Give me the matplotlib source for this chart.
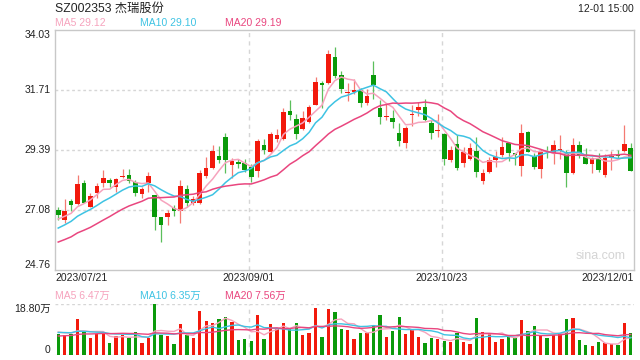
import numpy as np
import pandas as pd
import matplotlib
matplotlib.use("Agg")
import matplotlib.pyplot as plt

plt.rcParams['font.family'] = ['Liberation Sans', 'Noto Sans CJK SC', 'DejaVu Sans']

# daily quotes 2023/07/21 .. 2023/12/01 (90 sessions)
open_ = [27.08, 26.70, 27.43, 27.30, 28.13, 27.20, 27.75, 28.13, 28.24, 27.98,
         28.37, 28.44, 28.17, 27.68, 28.13, 27.66, 26.82, 26.79, 27.14, 27.04,
         27.89, 27.34, 27.36, 28.40, 28.71, 29.16, 29.88, 28.82, 28.94, 28.88,
         28.72, 28.60, 29.59, 29.33, 29.82, 29.82, 30.91, 30.59, 30.19, 30.49,
         31.13, 31.99, 31.99, 33.00, 32.29, 31.58, 31.65, 31.71, 31.22, 32.29,
         31.03, 30.66, 30.65, 30.04, 29.68, 30.76, 30.94, 31.07, 30.45, 30.14,
         30.01, 29.00, 29.62, 28.88, 29.03, 29.36, 28.20, 28.55, 29.00, 29.20,
         29.65, 29.26, 28.77, 30.10, 29.16, 28.68, 29.35, 29.29, 29.36, 29.33,
         28.49, 29.58, 29.13, 28.84, 29.07, 28.42, 29.10, 29.22, 29.36, 29.49]
high = [27.19, 27.49, 27.49, 28.43, 28.24, 27.72, 28.11, 28.62, 28.32, 28.33,
        28.65, 28.65, 28.24, 27.98, 28.56, 27.66, 26.82, 27.06, 27.27, 28.24,
        28.04, 27.62, 28.62, 29.11, 29.59, 29.55, 30.06, 29.07, 29.05, 29.05,
        28.85, 29.81, 29.81, 30.10, 30.19, 31.03, 31.32, 30.78, 30.90, 31.13,
        32.20, 32.05, 33.25, 33.38, 32.44, 31.97, 32.12, 31.78, 31.77, 32.83,
        31.32, 31.16, 30.94, 30.42, 30.32, 31.13, 31.26, 31.35, 30.55, 30.78,
        30.05, 29.55, 29.97, 29.52, 29.68, 29.88, 28.65, 29.13, 29.36, 29.90,
        29.70, 29.29, 30.39, 30.12, 29.29, 29.45, 29.56, 29.80, 29.97, 29.40,
        29.84, 29.75, 29.49, 29.13, 29.29, 29.23, 29.35, 29.39, 30.36, 29.65]
low = [26.69, 26.57, 27.02, 27.28, 27.34, 27.18, 27.53, 27.98, 27.98, 27.79,
       28.30, 28.11, 27.62, 27.53, 27.79, 26.31, 25.85, 26.50, 26.85, 26.57,
       27.21, 27.27, 27.30, 28.30, 28.68, 28.90, 28.52, 28.30, 28.70, 28.56,
       28.17, 28.34, 29.25, 29.28, 29.72, 29.78, 30.55, 29.82, 30.17, 30.45,
       31.13, 31.00, 31.95, 32.16, 31.61, 31.29, 31.55, 31.07, 31.15, 31.35,
       30.38, 30.55, 30.23, 29.55, 29.46, 30.32, 30.71, 30.52, 29.81, 29.91,
       28.82, 28.95, 28.62, 28.75, 29.00, 28.36, 28.08, 28.50, 28.75, 29.13,
       28.98, 28.81, 28.39, 29.30, 28.68, 28.30, 29.10, 28.85, 29.05, 27.97,
       28.47, 29.10, 28.85, 28.51, 28.55, 28.36, 28.64, 29.05, 29.30, 28.58]
close = [26.89, 27.02, 27.27, 28.08, 27.36, 27.62, 28.00, 28.32, 28.11, 28.27,
         28.40, 28.21, 27.72, 27.89, 28.39, 26.79, 26.50, 26.98, 27.02, 28.02,
         27.34, 27.49, 28.49, 28.69, 29.35, 29.00, 29.00, 28.98, 28.84, 28.62,
         28.34, 29.74, 29.39, 30.01, 29.97, 30.87, 30.75, 30.00, 30.62, 31.07,
         32.03, 31.91, 33.10, 32.26, 31.77, 31.62, 31.71, 31.22, 31.48, 31.90,
         30.68, 30.68, 30.49, 29.74, 30.26, 30.78, 31.04, 30.55, 30.04, 30.16,
         29.03, 29.39, 28.71, 29.33, 29.46, 28.56, 28.52, 29.00, 29.13, 29.52,
         29.29, 29.20, 30.06, 29.33, 28.75, 29.33, 29.30, 29.59, 29.45, 28.49,
         29.58, 29.20, 28.87, 29.09, 28.62, 29.07, 29.17, 29.15, 29.62, 28.59]
# volume in 万
volume = [7.74, 7.37, 7.74, 13.27, 8.48, 6.27, 7.62, 7.62, 4.42, 6.88,
          7.37, 6.27, 8.36, 4.42, 6.27, 18.80, 7.37, 7.00, 4.06, 11.43,
          7.37, 6.27, 16.20, 12.50, 11.80, 13.27, 14.00, 12.20, 5.50, 5.90,
          5.20, 14.75, 5.90, 11.43, 9.60, 11.80, 9.60, 11.80, 7.37, 8.10,
          17.30, 6.60, 16.96, 15.85, 9.60, 9.20, 5.90, 8.10, 8.10, 10.70,
          14.75, 6.60, 8.85, 14.00, 7.74, 9.20, 6.60, 4.42, 6.27, 5.90,
          5.20, 4.80, 8.10, 4.80, 4.06, 13.64, 8.48, 7.74, 4.80, 5.90,
          7.00, 6.27, 12.90, 8.85, 10.70, 7.37, 6.27, 7.37, 7.74, 13.30,
          13.64, 5.70, 3.70, 3.30, 4.80, 4.42, 4.06, 3.70, 11.95, 8.20]

# the 19 sessions before the window, only needed to start the moving averages
prev_close = [25.1, 25.2, 25.0, 25.3, 25.4, 25.2, 25.5, 25.4, 25.3, 25.6,
              25.8, 25.9, 26.1, 26.0, 26.35, 26.5, 26.7, 26.8, 26.76]
prev_volume = [5.2, 6.1, 5.5, 4.9, 6.3, 5.8, 5.4, 6.0, 5.9, 5.9,
               7.6, 8.4, 7.9, 8.8, 7.8, 9.1, 8.2, 9.0, 8.46]

date_ticks = [0, 30, 60, 89]
date_labels = ["2023/07/21", "2023/09/01", "2023/10/23", "2023/12/01"]
price_ticks = [24.76, 27.08, 29.39, 31.71, 34.03]

RED = "#f2190c"
GREEN = "#0a9a0a"
RED_WICK = "#f47a72"
GREEN_WICK = "#5bbf5b"
C_MA5 = "#f6a3bd"
C_MA10 = "#3ec3e3"
C_MA20 = "#e9467f"
GRID = "#d6d6d6"
TXT = "#222222"

n = len(close)
x = np.arange(n)
o = np.array(open_)
c = np.array(close)
up = c >= o

# moving averages (with the earlier sessions prepended)
cs = pd.Series(prev_close + close)
vs = pd.Series(prev_volume + volume)
k = len(prev_close)
ma = {p: cs.rolling(p).mean().values[k:] for p in (5, 10, 20)}
vma = {p: vs.rolling(p).mean().values[k:] for p in (5, 10, 20)}

fig = plt.figure(figsize=(6.4, 3.6), dpi=100)

def px(xp, yp):
    return xp / 640, 1 - yp / 360

# price panel
ax = fig.add_axes([55 / 640, 90 / 360, 579 / 640, 240 / 360])
ax.set_xlim(-0.5, n - 0.5)
ax.set_ylim(price_ticks[0], price_ticks[-1])

for yv in price_ticks[1:-1]:
    ax.axhline(yv, color=GRID, lw=1, ls=(0, (2, 2)), zorder=0)
for t in date_ticks[1:3]:
    ax.axvline(t - 0.4, color=GRID, lw=1, ls=(0, (3, 3)), zorder=0)

# wicks and bodies
ax.vlines(x[up], np.array(low)[up], np.array(high)[up], color=RED_WICK, lw=0.9, zorder=2)
ax.vlines(x[~up], np.array(low)[~up], np.array(high)[~up], color=GREEN_WICK, lw=0.9, zorder=2)
body_bottom = np.minimum(o, c)
body_h = np.maximum(np.abs(c - o), 0.03)
ax.bar(x, body_h, bottom=body_bottom, width=0.72,
       color=np.where(up, RED, GREEN), linewidth=0, zorder=3)

ax.plot(x, ma[5], color=C_MA5, lw=1.1, zorder=4)
ax.plot(x, ma[10], color=C_MA10, lw=1.1, zorder=4)
ax.plot(x, ma[20], color=C_MA20, lw=1.1, zorder=4)

for s in ax.spines.values():
    s.set_color("#c8c8c8")
    s.set_linewidth(1)
ax.set_xticks([])
ax.set_yticks([])

ytr = ax.get_yaxis_transform()
for yv in price_ticks:
    va = "center"
    if yv == price_ticks[-1]:
        va = "top"
    elif yv == price_ticks[0]:
        va = "bottom"
    ax.text(-0.008, yv, "%.2f" % yv, transform=ytr, ha="right", va=va,
            fontsize=7.5, color=TXT)

xtr = ax.get_xaxis_transform()
for t, lab in zip(date_ticks, date_labels):
    ha = "center"
    xpos = t - 0.4
    if t == date_ticks[0]:
        ha, xpos = "left", -0.5
    elif t == date_ticks[-1]:
        ha, xpos = "right", n - 0.5
    ax.text(xpos, -0.033, lab, transform=xtr, ha=ha, va="center", fontsize=7.5, color=TXT)

ax.text(0.985, 0.06, "sina.com", transform=ax.transAxes, ha="right", va="center",
        fontsize=9, color="#d4d4d4")

# volume panel
av = fig.add_axes([55 / 640, 5 / 360, 579 / 640, 51 / 360])
av.set_xlim(-0.5, n - 0.5)
av.set_ylim(0, max(volume))
av.axhline(max(volume), color=GRID, lw=1, ls=(0, (2, 2)), zorder=0)
av.axhline(0, color=GRID, lw=1, ls=(0, (2, 2)), zorder=0)
for t in date_ticks[1:3]:
    av.axvline(t - 0.4, color=GRID, lw=1, ls=(0, (3, 3)), zorder=0)
av.bar(x, volume, width=0.52, color=np.where(up, RED, GREEN), linewidth=0, zorder=2)
av.plot(x, vma[5], color=C_MA5, lw=1, zorder=3)
av.plot(x, vma[10], color=C_MA10, lw=1, zorder=3)
av.plot(x, vma[20], color=C_MA20, lw=1, zorder=3)
for s in av.spines.values():
    s.set_visible(False)
av.set_xticks([])
av.set_yticks([])
vtr = av.get_yaxis_transform()
av.text(-0.008, max(volume), "%.2f万" % max(volume), transform=vtr, ha="right", va="top",
        fontsize=7.5, color=TXT)
av.text(-0.008, 0, "0", transform=vtr, ha="right", va="bottom", fontsize=7.5, color=TXT)

# header texts
fig.text(*px(55, 9), "SZ002353 杰瑞股份", fontsize=8.8, color=TXT, va="center")
fig.text(*px(634, 9), "12-01 15:00", fontsize=7.5, color=TXT, va="center", ha="right")
fig.text(*px(55, 23), "MA5 %.2f" % ma[5][-1], fontsize=7.5, color=C_MA5, va="center")
fig.text(*px(140, 23), "MA10 %.2f" % ma[10][-1], fontsize=7.5, color=C_MA10, va="center")
fig.text(*px(225, 23), "MA20 %.2f" % ma[20][-1], fontsize=7.5, color=C_MA20, va="center")

fig.text(*px(55, 296), "MA5 %.2f万" % vma[5][-1], fontsize=7.5, color=C_MA5, va="center")
fig.text(*px(140, 296), "MA10 %.2f万" % vma[10][-1], fontsize=7.5, color=C_MA10, va="center")
fig.text(*px(225, 296), "MA20 %.2f万" % vma[20][-1], fontsize=7.5, color=C_MA20, va="center")

fig.savefig("out.png", dpi=100, facecolor="white")
